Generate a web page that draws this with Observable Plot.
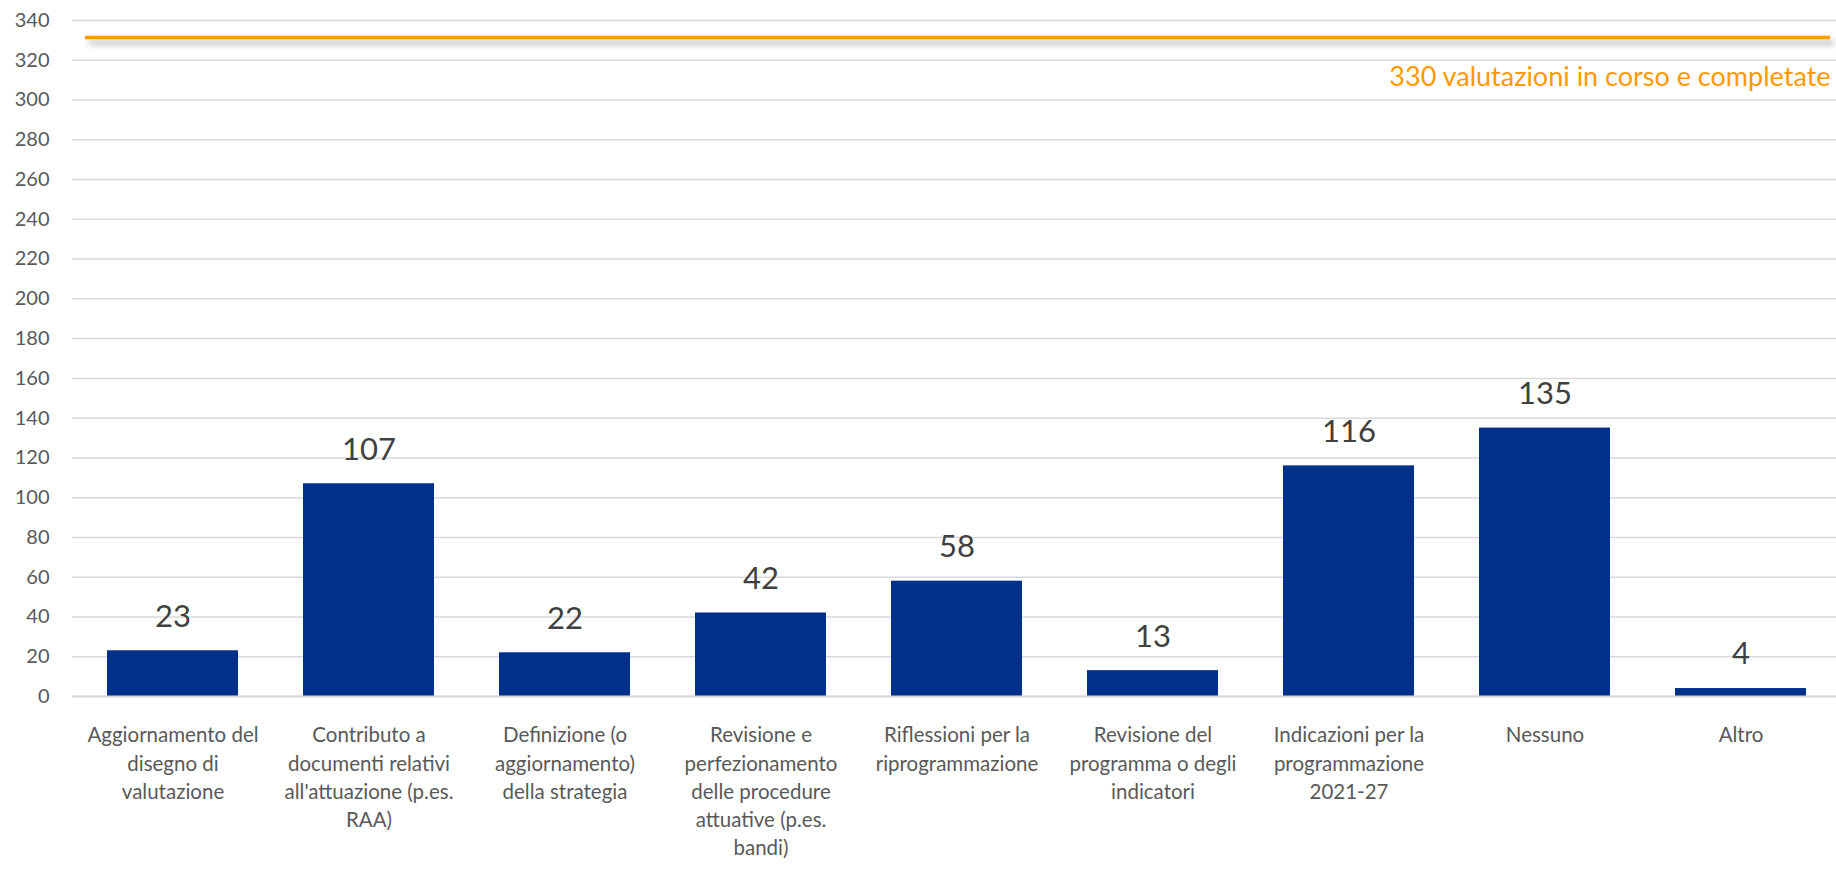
<!DOCTYPE html>
<html>
<head>
<meta charset="utf-8">
<script src="https://cdn.jsdelivr.net/npm/d3@7"></script>
<script src="https://cdn.jsdelivr.net/npm/@observablehq/plot@0.6"></script>
<style>
  html, body { margin: 0; padding: 0; background: #fff; }
  .shadow { filter: drop-shadow(4px 5px 3px rgba(0,0,0,0.35)); }
</style>
</head>
<body>
<div id="chart"></div>
<script>
const categories = [
  "Aggiornamento del disegno di valutazione",
  "Contributo a documenti relativi all'attuazione (p.es. RAA)",
  "Definizione (o aggiornamento) della strategia",
  "Revisione e perfezionamento delle procedure attuative (p.es. bandi)",
  "Riflessioni per la riprogrammazione",
  "Revisione del programma o degli indicatori",
  "Indicazioni per la programmazione 2021-27",
  "Nessuno",
  "Altro"
];
const tickLabels = [
  "Aggiornamento del\ndisegno di\nvalutazione",
  "Contributo a\ndocumenti relativi\nall'attuazione (p.es.\nRAA)",
  "Definizione (o\naggiornamento)\ndella strategia",
  "Revisione e\nperfezionamento\ndelle procedure\nattuative (p.es.\nbandi)",
  "Riflessioni per la\nriprogrammazione",
  "Revisione del\nprogramma o degli\nindicatori",
  "Indicazioni per la\nprogrammazione\n2021-27",
  "Nessuno",
  "Altro"
];
const values = [23, 107, 22, 42, 58, 13, 116, 135, 4];
const totalValue = 330;
const totalLabel = "330 valutazioni in corso e completate";
const yTicks = d3.range(0, 341, 20);

const data = categories.map((c, i) => ({category: c, value: values[i], tick: tickLabels[i]}));
const labelOf = new Map(data.map(d => [d.category, d.tick]));

const font = "Lato, 'Open Sans', sans-serif";

const chart = Plot.plot({
  width: 1836,
  height: 889,
  marginTop: 20,
  marginLeft: 72,
  marginRight: 0,
  marginBottom: 193,
  style: {fontFamily: font, background: "#fff"},
  x: {domain: categories, paddingInner: 0.333, paddingOuter: 0.1667, align: 0.5, range: [71, 1842]},
  y: {domain: [0, 340]},
  marks: [
    Plot.gridY(yTicks, {stroke: "#d9d9d9", strokeOpacity: 1, strokeWidth: 1.5}),
    Plot.axisY(yTicks, {tickSize: 0, tickPadding: 23, fontSize: 20, fill: "#595959", label: null}),
    Plot.barY(data, {x: "category", y: "value", fill: "#003089"}),
    Plot.ruleY([0], {stroke: "#d9d9d9", strokeWidth: 2}),
    Plot.axisX({tickSize: 0, tickPadding: 26, fontSize: 20.5, fill: "#595959", lineHeight: 1.37, label: null,
      tickFormat: d => labelOf.get(d)}),
    Plot.text(data, {x: "category", y: "value", text: d => String(d.value), dy: -34, fontSize: 31, fill: "#404040"}),
    Plot.ruleY([totalValue], {stroke: "#FF9A00", strokeWidth: 3.5, dy: -3, insetLeft: 13, insetRight: 6, className: "shadow"}),
    Plot.text([totalValue], {y: d => d, text: () => totalLabel, frameAnchor: "right", textAnchor: "end", dx: -6, dy: 37, fontSize: 27, fill: "#FF9900"})
  ]
});
document.getElementById("chart").appendChild(chart);
</script>
</body>
</html>
